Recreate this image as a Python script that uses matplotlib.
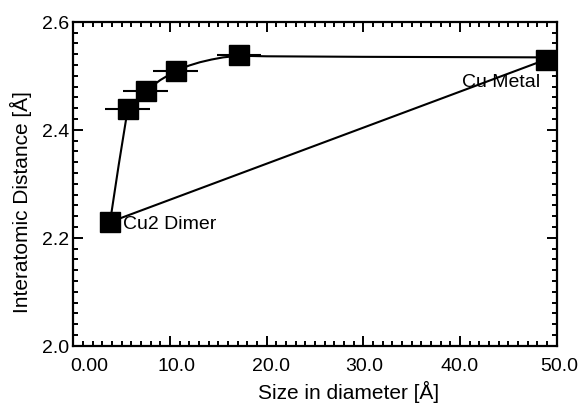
import matplotlib
matplotlib.use("Agg")
import matplotlib.pyplot as plt
from matplotlib.ticker import MultipleLocator, FixedFormatter, FixedLocator
from matplotlib.transforms import ScaledTranslation

plt.rcParams['font.family'] = ['Liberation Sans', 'DejaVu Sans']

# Cluster measurements: size in diameter [Å] vs interatomic distance [Å]
cluster_size = [5.63, 7.49, 10.59, 17.14]
cluster_dist = [2.438, 2.472, 2.509, 2.538]
cluster_size_err = [2.3, 2.3, 2.3, 2.3]

# Reference points
dimer_size, dimer_dist = 3.8, 2.229
metal_size, metal_dist = 48.9, 2.530

# Trend curve through the cluster series
trend_size = [3.8, 4.7, 5.63, 7.49, 9.0, 10.59, 12.0, 13.1, 14.3, 15.5, 17.14, 20.0, 30.0, 48.9]
trend_dist = [2.229, 2.335, 2.438, 2.472, 2.492, 2.509, 2.519, 2.525, 2.530, 2.534, 2.537,
              2.536, 2.535, 2.534]

x_ticks = [0, 10, 20, 30, 40, 50]
x_tick_labels = ["0.00", "10.0", "20.0", "30.0", "40.0", "50.0"]
y_ticks = [2.0, 2.2, 2.4, 2.6]
y_tick_labels = ["2.0", "2.2", "2.4", "2.6"]

fig = plt.figure(figsize=(5.84, 4.06), dpi=100)
ax = fig.add_axes([0.1255, 0.146, 0.8277, 0.798])

lw = 1.5
ax.plot(trend_size, trend_dist, color='black', lw=lw, zorder=2)
ax.plot([dimer_size, metal_size], [dimer_dist, metal_dist], color='black', lw=lw, zorder=2)
ax.errorbar(cluster_size, cluster_dist, xerr=cluster_size_err, fmt='s', color='black',
            ms=14, elinewidth=lw, capsize=0, zorder=3)
ax.plot([dimer_size, metal_size], [dimer_dist, metal_dist], 's', color='black', ms=14, zorder=3)

ax.annotate("Cu2 Dimer", (dimer_size, dimer_dist), xytext=(9.4, -1), textcoords='offset points',
            ha='left', va='center', fontsize=14)
ax.annotate("Cu Metal", (metal_size, metal_dist), xytext=(-4.3, -15.5), textcoords='offset points',
            ha='right', va='center', fontsize=14)

ax.set_xlim(0, 50)
ax.set_ylim(2.0, 2.6)
ax.xaxis.set_major_locator(FixedLocator(x_ticks))
ax.xaxis.set_major_formatter(FixedFormatter(x_tick_labels))
ax.yaxis.set_major_locator(FixedLocator(y_ticks))
ax.yaxis.set_major_formatter(FixedFormatter(y_tick_labels))
ax.xaxis.set_minor_locator(MultipleLocator(1))
ax.yaxis.set_minor_locator(MultipleLocator(0.02))

ax.tick_params(which='both', direction='in', top=True, right=True, width=1.4, labelsize=14)
ax.tick_params(which='major', length=7.5)
ax.tick_params(which='minor', length=3.6)
ax.tick_params(axis='x', which='major', pad=8)
ax.tick_params(axis='y', which='major', pad=3)
for s in ax.spines.values():
    s.set_linewidth(1.6)

ax.set_xlabel("Size in diameter [Å]", fontsize=15)
ax.set_ylabel("Interatomic Distance [Å]", fontsize=15)
ax.xaxis.set_label_coords(0.569, -0.105)
ax.yaxis.set_label_coords(-0.085, 0.447)

fig.canvas.draw()
shifts = [16, 7, 4, 1, 0, 3]
for lab, dx in zip(ax.get_xticklabels(), shifts):
    lab.set_transform(lab.get_transform() + ScaledTranslation(dx / 100, 0, fig.dpi_scale_trans))

fig.savefig("out.png", dpi=100)
